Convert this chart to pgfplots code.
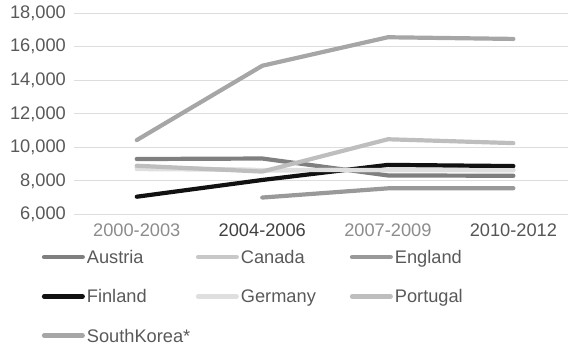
\documentclass[border=0pt]{standalone}
\usepackage{pgfplots}
\pgfplotsset{compat=1.18}
\usepackage{fontspec}
\setmainfont{Liberation Sans}

\definecolor{txt}{HTML}{595959}
\definecolor{lbllight}{HTML}{8C8C8C}
\definecolor{lbldark}{HTML}{404040}
\definecolor{lblmid}{HTML}{555555}
\definecolor{gridc}{HTML}{DDDDDD}
\definecolor{cAustria}{HTML}{7F7F7F}
\definecolor{cCanada}{HTML}{C8C8C8}
\definecolor{cEngland}{HTML}{999999}
\definecolor{cFinland}{HTML}{111111}
\definecolor{cGermany}{HTML}{DFDFDF}
\definecolor{cPortugal}{HTML}{BEBEBE}
\definecolor{cKorea}{HTML}{A6A6A6}

% fixed-width legend text so the columns sit on an even pitch
\newcommand{\lentry}[1]{\makebox[109bp][l]{#1}}

\begin{document}
\begin{tikzpicture}
\useasboundingbox (-74bp,-130.7bp) rectangle (494bp,214.3bp);
\begin{axis}[
  scale only axis,
  width=494bp, height=201bp,
  xmin=-0.5, xmax=3.435,
  ymin=6000, ymax=18000,
  xtick={0,1,2,3},
  xticklabels={\textcolor{lbllight}{2000-2003},\textcolor{lbldark}{2004-2006},\textcolor{lbllight}{2007-2009},\textcolor{lblmid}{2010-2012}},
  ytick={6000,8000,10000,12000,14000,16000,18000},
  scaled y ticks=false,
  /pgf/number format/.cd, 1000 sep={,}, assume math mode=true,
  /pgfplots/.cd,
  axis line style={draw=none},
  major tick length=0pt,
  tick style={draw=none},
  ymajorgrids,
  grid style={gridc, line width=1bp},
  tick label style={font=\fontsize{18.3}{22}\selectfont, text=txt, inner sep=0pt},
  yticklabel style={anchor=east, xshift=-8bp},
  xticklabel style={anchor=north, yshift=-9bp},
  every axis plot/.append style={line width=4.2bp, line cap=round, line join=round},
  unbounded coords=jump,
  legend columns=3,
  legend style={
    at={(axis description cs:0,0)}, anchor=north west,
    xshift=-32.3bp, yshift=-36.1bp,
    draw=none, fill=none, inner sep=0pt,
    font=\fontsize{18.3}{22}\selectfont, text=txt,
    nodes={inner sep=0pt, text height=13bp, text depth=0bp, anchor=west},
    row sep=26.3bp,
    /tikz/every odd column/.append style={column sep=2bp},
  },
  legend cell align=left,
  legend image code/.code={\draw[#1, line width=4.6bp, line cap=round] (2.3bp,0bp) -- (40.7bp,0bp);},
]
% Austria
\addplot[cAustria] coordinates {(0,9300) (1,9330) (2,8320) (3,8300)};
\addlegendentry{\lentry{Austria}}
% Canada
\addplot[cCanada] coordinates {(0,8800) (1,8630) (2,8650) (3,8640)};
\addlegendentry{\lentry{Canada}}
% England
\addplot[cEngland] coordinates {(1,7000) (2,7550) (3,7560)};
\addlegendentry{\lentry{England}}
% Finland
\addplot[cFinland] coordinates {(0,7050) (1,8050) (2,8950) (3,8880)};
\addlegendentry{\lentry{Finland}}
% Germany
\addplot[cGermany] coordinates {(0,8700) (1,8650) (2,8650) (3,8630)};
\addlegendentry{\lentry{Germany}}
% Portugal
\addplot[cPortugal] coordinates {(0,8900) (1,8550) (2,10480) (3,10250)};
\addlegendentry{\lentry{Portugal}}
% South Korea
\addplot[cKorea] coordinates {(0,10430) (1,14870) (2,16570) (3,16470)};
\addlegendentry{\lentry{SouthKorea*}}
\end{axis}
\end{tikzpicture}
\end{document}
